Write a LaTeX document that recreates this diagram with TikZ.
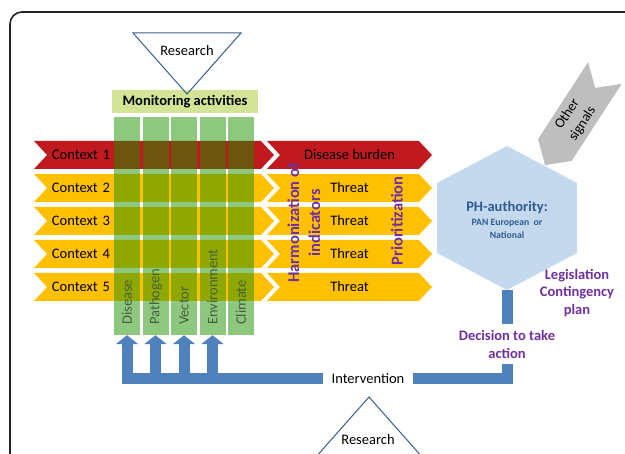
\documentclass[tikz,border=0pt]{standalone}
\usepackage{fontspec}
\setmainfont{Carlito}
\usepackage{tikz}
\usetikzlibrary{positioning,shapes.symbols,arrows.meta}

\definecolor{ctxred}{RGB}{192,26,32}
\definecolor{ctxyellow}{RGB}{255,192,0}
\definecolor{colgreen}{RGB}{30,145,0}
\definecolor{monigreen}{RGB}{212,228,150}
\definecolor{hexblue}{RGB}{197,217,238}
\definecolor{barblue}{RGB}{79,129,189}
\definecolor{labpurple}{RGB}{112,48,160}
\definecolor{phblue}{RGB}{46,90,148}
\definecolor{triblue}{RGB}{56,93,138}
\definecolor{signalgray}{RGB}{190,190,190}
\definecolor{framegray}{RGB}{35,35,35}
\definecolor{collabgray}{RGB}{70,95,60}

\newcommand{\fsz}[2]{\fontsize{#1}{#2}\selectfont}

\begin{document}
\begin{tikzpicture}[x=1pt,y=-1pt,
  chev/.style={shape=signal,signal pointer angle=94,draw=none,minimum height=28pt,inner sep=0pt,font=\fsz{14.5}{17}},
  ctxchev/.style={chev,signal from=west,signal to=east,minimum width=240pt,text width=204pt,align=left},
  rchev/.style={chev,signal from=west,signal to=east,minimum width=165pt,align=center},
  monicol/.style={rectangle,fill=colgreen,fill opacity=0.5,draw=none,minimum width=26pt,minimum height=218pt,inner sep=0pt},
  collab/.style={rotate=90,anchor=west,inner sep=0pt,text=collabgray,font=\fsz{14.5}{17}},
  tri/.style={draw=triblue,line width=1pt,line join=miter},
  plain/.style={font=\fsz{14.5}{17},inner sep=0pt},
  purp/.style={text=labpurple,font=\bfseries\fsz{14.5}{17.5},align=center,inner sep=0pt},
  bar/.style={draw=barblue,line width=11pt},
  uparrow/.style={bar,-{Triangle[width=22pt,length=9pt]}}]
\useasboundingbox (0,0) rectangle (625,454);
\clip (0,0) rectangle (625,454);
\draw [framegray,line width=1.6pt,rounded corners=12pt] (10,480) -- (10,12) -- (650,12);

\node [rectangle,fill=monigreen,minimum width=146pt,minimum height=23pt,inner sep=0pt,font=\bfseries\fsz{14.5}{17}] (moni) at (185,101.5) {Monitoring activities};
\draw [tri] (133,33) -- (241,33) -- (187,94) -- cycle;
\node [plain] (research1) at (187,51) {Research};

\node [ctxchev,fill=ctxred] (ctx1) at (154,155) {Context 1};
\node [rchev,fill=ctxred] (burden) at (349.5,155) {Disease burden};
\foreach \i in {2,...,5} {
  \node [ctxchev,fill=ctxyellow] (ctx\i) at (154,{155+33*(\i-1)}) {Context \i};
  \node [rchev,fill=ctxyellow] (threat\i) at (349.5,{155+33*(\i-1)}) {Threat};
}

\foreach \x/\name/\lab in {127/dis/Disease,155.5/pat/Pathogen,184/vec/Vector,212.5/env/Environment,241/cli/Climate} {
  \node [monicol] (\name) at (\x,226) {};
  \node [collab] (\name-lab) at (\x,325) {\lab};
}

\node [purp,font=\bfseries\fsz{16.5}{21},rotate=90] (harmon) at (304,223) {Harmonization of\\indicators};
\node [purp,font=\bfseries\fsz{16.5}{21},rotate=90] (prior) at (397,221) {Prioritization};

\node [shape=signal,signal to=west,signal from=east,signal pointer angle=96,fill=signalgray,rotate=57,minimum width=110pt,minimum height=40pt,inner sep=0pt,align=center,font=\fsz{14}{18}] (other) at (575,119) {Other\\signals};

\fill [hexblue] (507,146) -- (577,183) -- (577,253) -- (507,290) -- (437,253) -- (437,183) -- cycle;
\coordinate (phbottom) at (507,290);
\node [text=phblue,font=\bfseries\fsz{14.5}{17},inner sep=0pt] (ph) at (507,208) {PH-authority:};
\node [text=phblue,font=\bfseries\fsz{9.7}{13},align=center,inner sep=0pt] (phsub) at (507,229) {PAN European\ \ or\\National};

\node [purp] (legis) at (577,293) {Legislation\\Contingency\\plan};
\node [purp,font=\bfseries\fsz{14.5}{18},minimum height=39pt] (decide) at (507,344) {Decision to take\\action};
\node [plain,minimum width=90pt] (interv) at (368,378.5) {Intervention};

\draw [bar] (phbottom) -- (decide.north);
\draw [bar] (decide.south) |- (interv.east);
\draw [uparrow] (interv.west) -| (dis.south);
\foreach \c in {pat,vec,env}
  \draw [uparrow] (\c.south |- interv.west) -- (\c.south);

\draw [tri] (369,397) -- (423,458) -- (315,458) -- cycle;
\node [plain] (research2) at (368,440) {Research};
\end{tikzpicture}
\end{document}
